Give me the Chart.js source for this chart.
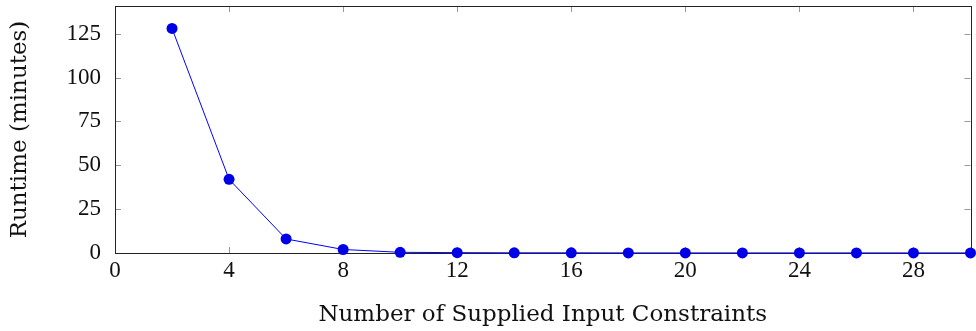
<!DOCTYPE html>
<html>
<head>
<meta charset="utf-8">
<script src="https://cdn.jsdelivr.net/npm/chart.js@4"></script>
<style>
  html, body { margin: 0; padding: 0; background: #fff; }
  #wrap { width: 976px; height: 331px; }
</style>
</head>
<body>
<div id="wrap"><canvas id="runtime-chart"></canvas></div>
<script>
// values
const constraintCounts = [2, 4, 6, 8, 10, 12, 14, 16, 18, 20, 22, 24, 26, 28, 30];
const runtimeMinutes = [128, 42, 8, 2, 0.4, 0.2, 0.1, 0.1, 0.05, 0.05, 0.05, 0.05, 0.05, 0.05, 0.05];
const xTickValues = [0, 4, 8, 12, 16, 20, 24, 28];
const yTickValues = [0, 25, 50, 75, 100, 125];

const tickFont = '"Liberation Serif", serif';
const titleFont = '"DejaVu Serif", serif';

// box around the plot plus small inward ticks on every side
const frameTicks = {
    id: 'frameTicks',
    beforeDatasetsDraw(chart) {
        const { ctx, chartArea: a, scales } = chart;
        ctx.save();
        ctx.strokeStyle = '#999';
        ctx.lineWidth = 1;
        ctx.beginPath();
        xTickValues.forEach(v => {
            const px = Math.round(scales.x.getPixelForValue(v)) + 0.5;
            ctx.moveTo(px, a.bottom); ctx.lineTo(px, a.bottom - 6);
            ctx.moveTo(px, a.top); ctx.lineTo(px, a.top + 6);
        });
        yTickValues.forEach(v => {
            const py = Math.round(scales.y.getPixelForValue(v)) + 0.5;
            ctx.moveTo(a.left, py); ctx.lineTo(a.left + 6, py);
            ctx.moveTo(a.right, py); ctx.lineTo(a.right - 6, py);
        });
        ctx.stroke();
        ctx.strokeStyle = '#222';
        ctx.strokeRect(Math.round(a.left) + 0.5, Math.round(a.top) + 0.5,
            Math.round(a.right - a.left), Math.round(a.bottom - a.top));
        ctx.restore();
    }
};

const points = constraintCounts.map((x, i) => ({ x, y: runtimeMinutes[i] }));

new Chart(document.getElementById('runtime-chart').getContext('2d'), {
    type: 'line',
    data: {
        datasets: [{
            data: points,
            borderColor: '#0000ff',
            borderWidth: 1,
            backgroundColor: '#0000e6',
            pointBackgroundColor: '#0000e6',
            pointBorderColor: '#0000e6',
            pointRadius: 5.5,
            pointBorderWidth: 0,
            tension: 0,
            clip: false
        }]
    },
    options: {
        responsive: true,
        maintainAspectRatio: false,
        animation: false,
        layout: { padding: { top: 6, right: 2, left: 0, bottom: 0 } },
        plugins: { legend: { display: false }, tooltip: { enabled: false } },
        scales: {
            x: {
                type: 'linear',
                min: 0,
                max: 30,
                afterBuildTicks: s => { s.ticks = xTickValues.map(value => ({ value })); },
                afterFit: s => { s.height = 78; s.paddingLeft = 0; s.paddingRight = 0; },
                grid: { display: false, drawTicks: false },
                border: { display: false },
                ticks: { color: '#111', font: { family: tickFont, size: 23 }, padding: 4, maxRotation: 0 },
                title: {
                    display: true,
                    text: 'Number of Supplied Input Constraints',
                    color: '#111',
                    font: { family: titleFont, size: 23 },
                    padding: { top: 0, bottom: 2 }
                }
            },
            y: {
                min: 0,
                max: 140.8,
                afterBuildTicks: s => { s.ticks = yTickValues.map(value => ({ value })); },
                afterFit: s => { s.width = 115; s.paddingTop = 0; s.paddingBottom = 0; },
                grid: { display: false, drawTicks: false },
                border: { display: false },
                ticks: { color: '#111', font: { family: tickFont, size: 23 }, padding: 14 },
                title: {
                    display: true,
                    text: 'Runtime (minutes)',
                    color: '#111',
                    font: { family: titleFont, size: 23 },
                    padding: { top: 6, bottom: 0 }
                }
            }
        }
    },
    plugins: [frameTicks]
});
</script>
</body>
</html>
